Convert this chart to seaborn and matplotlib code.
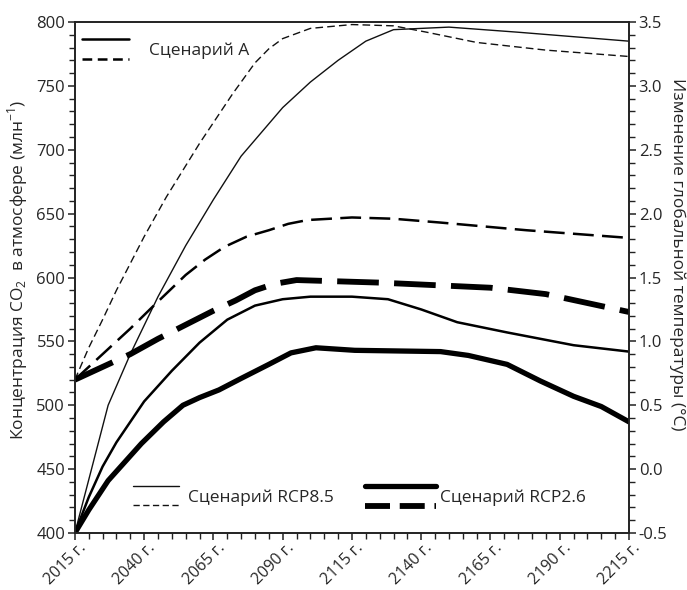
import matplotlib
matplotlib.use("Agg")
import pandas as pd
import matplotlib.pyplot as plt
import seaborn as sns
from matplotlib.legend_handler import HandlerBase
from matplotlib.lines import Line2D
from matplotlib.ticker import MultipleLocator, FuncFormatter
from matplotlib.transforms import ScaledTranslation

# --- data ---
# CO2 concentration, ppm (left axis)
yr_co2_rcp85 = [2015, 2021, 2027, 2035, 2045, 2055, 2065, 2075, 2090, 2100, 2110, 2120, 2130, 2140, 2150, 2175, 2215]
co2_rcp85 = [400, 450, 500, 540, 585, 625, 661, 695, 733, 753, 770, 785, 794, 795, 796, 792, 785]

yr_co2_a = [2015, 2020, 2025, 2030, 2040, 2050, 2060, 2070, 2080, 2090, 2100, 2115, 2128, 2140, 2153, 2171, 2195, 2215]
co2_a = [400, 428, 452, 471, 503, 527, 549, 567, 578, 583, 585, 585, 583, 575, 565, 557, 547, 542]

yr_co2_rcp26 = [2015, 2020, 2027, 2039, 2047, 2054, 2060, 2067, 2075, 2085, 2093, 2102, 2116, 2147, 2157, 2171, 2183, 2195, 2205, 2215]
co2_rcp26 = [400, 418, 441, 470, 487, 500, 506, 512, 521, 532, 541, 545, 543, 542, 539, 532, 519, 507, 499, 487]

# global temperature change, deg C (right axis)
yr_t_rcp85 = [2015, 2020, 2025, 2030, 2040, 2048, 2060, 2072, 2080, 2085, 2090, 2100, 2115, 2130, 2142, 2160, 2185, 2215]
t_rcp85 = [0.70, 0.95, 1.17, 1.40, 1.82, 2.13, 2.55, 2.94, 3.18, 3.29, 3.37, 3.45, 3.48, 3.47, 3.42, 3.34, 3.28, 3.23]

yr_t_a = [2015, 2025, 2035, 2043, 2055, 2062, 2069, 2077, 2085, 2092, 2099, 2115, 2130, 2147, 2178, 2215]
t_a = [0.70, 0.90, 1.10, 1.27, 1.52, 1.64, 1.74, 1.82, 1.87, 1.92, 1.95, 1.97, 1.96, 1.93, 1.87, 1.81]

yr_t_rcp26 = [2015, 2025, 2035, 2045, 2055, 2065, 2073, 2080, 2087, 2095, 2110, 2125, 2145, 2165, 2185, 2200, 2215]
t_rcp26 = [0.70, 0.80, 0.90, 1.02, 1.13, 1.24, 1.32, 1.40, 1.45, 1.48, 1.47, 1.46, 1.44, 1.42, 1.37, 1.30, 1.23]

x_ticks = list(range(2015, 2216, 25))

sns.set_style("ticks")
plt.rcParams["font.family"] = ["Open Sans", "DejaVu Sans"]
plt.rcParams["mathtext.fontset"] = "custom"
plt.rcParams["mathtext.rm"] = "Open Sans"
plt.rcParams["lines.scale_dashes"] = False
plt.rcParams["axes.edgecolor"] = "#222222"
plt.rcParams["axes.linewidth"] = 1.2

FS = 12


class PairHandler(HandlerBase):
    """legend key: two sample lines stacked above each other"""

    def __init__(self, gap=14.5, dashes=None):
        super().__init__()
        self.gap = gap
        self.dashes = dashes

    def create_artists(self, legend, orig_handle, xdescent, ydescent,
                       width, height, fontsize, trans):
        mid = (height - ydescent) / 2.0
        arts = []
        for i, h in enumerate(orig_handle):
            y = mid + self.gap / 2.0 if i == 0 else mid - self.gap / 2.0
            ln = Line2D([-xdescent, width - xdescent], [y, y])
            ln.update_from(h)
            if i == 1 and self.dashes is not None:
                ln.set_dashes(self.dashes)
            ln.set_transform(trans)
            arts.append(ln)
        return arts


fig = plt.figure(figsize=(6.87, 5.90), dpi=100)
ax = fig.add_axes([0.109, 0.0966, 0.8066, 0.8661])
ax2 = ax.twinx()

thin, mid, thick = 1.0, 1.8, 3.8

sns.lineplot(x=yr_co2_rcp85, y=co2_rcp85, ax=ax, color="#111111", lw=thin)
sns.lineplot(x=yr_co2_a, y=co2_a, ax=ax, color="black", lw=mid)
sns.lineplot(x=yr_co2_rcp26, y=co2_rcp26, ax=ax, color="black", lw=thick)

sns.lineplot(x=yr_t_rcp85, y=t_rcp85, ax=ax2, color="#111111", lw=thin,
             linestyle=(0, (5.5, 3.0)))
sns.lineplot(x=yr_t_a, y=t_a, ax=ax2, color="black", lw=mid,
             linestyle=(0, (15, 6)))
sns.lineplot(x=yr_t_rcp26, y=t_rcp26, ax=ax2, color="black", lw=thick + 0.4,
             linestyle=(0, (30, 11)))

l85, la, l26 = ax.lines[0], ax.lines[1], ax.lines[2]
d85, da, d26 = ax2.lines[0], ax2.lines[1], ax2.lines[2]

# axes ranges and ticks
ax.set_xlim(2015, 2215)
ax.set_ylim(400, 800)
ax2.set_ylim(-0.5, 3.5)
ax.set_xticks(x_ticks)
ax.xaxis.set_major_formatter(FuncFormatter(lambda v, p: f"{int(round(v))} г."))
ax.xaxis.set_minor_locator(MultipleLocator(5))
ax.yaxis.set_major_locator(MultipleLocator(50))
ax.yaxis.set_minor_locator(MultipleLocator(10))
ax2.yaxis.set_major_locator(MultipleLocator(0.5))
ax2.yaxis.set_minor_locator(MultipleLocator(0.1))
ax2.yaxis.set_major_formatter(FuncFormatter(lambda v, p: f"{v:.1f}"))

for a in (ax, ax2):
    a.tick_params(which="major", direction="out", length=5, width=1.1,
                  labelsize=FS, pad=2, color="#222222")
    a.tick_params(which="minor", direction="out", length=4, width=1.0,
                  color="#222222")
    for s in a.spines.values():
        s.set_visible(True)
        s.set_color("#222222")
ax.tick_params(axis="x", which="major", pad=4, labelsize=11.5)

shift = ScaledTranslation(9 / 100, 0, fig.dpi_scale_trans)
for lab in ax.get_xticklabels():
    lab.set_rotation(45)
    lab.set_ha("right")
    lab.set_va("center")
    lab.set_rotation_mode("anchor")
    lab.set_transform(lab.get_transform() + shift)

ax.set_xlabel("")
ax.set_ylabel("Концентрация CO$_2$  в атмосфере (млн$^{-1}$)", fontsize=FS + 0.5)
ax.yaxis.label.set_va("center")
ax.yaxis.set_label_coords(-0.103, 0.515)

ax2.set_ylabel("Изменение глобальной температуры (°C)", fontsize=FS + 0.5,
               rotation=270)
ax2.yaxis.label.set_va("center")
ax2.yaxis.set_label_coords(1.087, 0.546)

# legends
common = dict(frameon=False, borderpad=0, borderaxespad=0, fontsize=FS + 0.5,
              loc="center left")
leg_a = ax2.legend([(la, da)], ["Сценарий А"],
                   handler_map={tuple: PairHandler(gap=14.5, dashes=(7, 4))},
                   bbox_to_anchor=(0.0126, 0.943), handlelength=2.7,
                   handletextpad=1.15, **common)
ax2.add_artist(leg_a)
leg_85 = ax2.legend([(l85, d85)], ["Сценарий RCP8.5"],
                    handler_map={tuple: PairHandler(gap=14, dashes=(4.5, 2.5))},
                    bbox_to_anchor=(0.1047, 0.0695), handlelength=2.65,
                    handletextpad=0.55, **common)
ax2.add_artist(leg_85)
ax2.legend([(l26, d26)], ["Сценарий RCP2.6"],
           handler_map={tuple: PairHandler(gap=14.5, dashes=(18, 7))},
           bbox_to_anchor=(0.5235, 0.0685), handlelength=4.1,
           handletextpad=0.25, **common)

fig.savefig("out.png", dpi=100)
